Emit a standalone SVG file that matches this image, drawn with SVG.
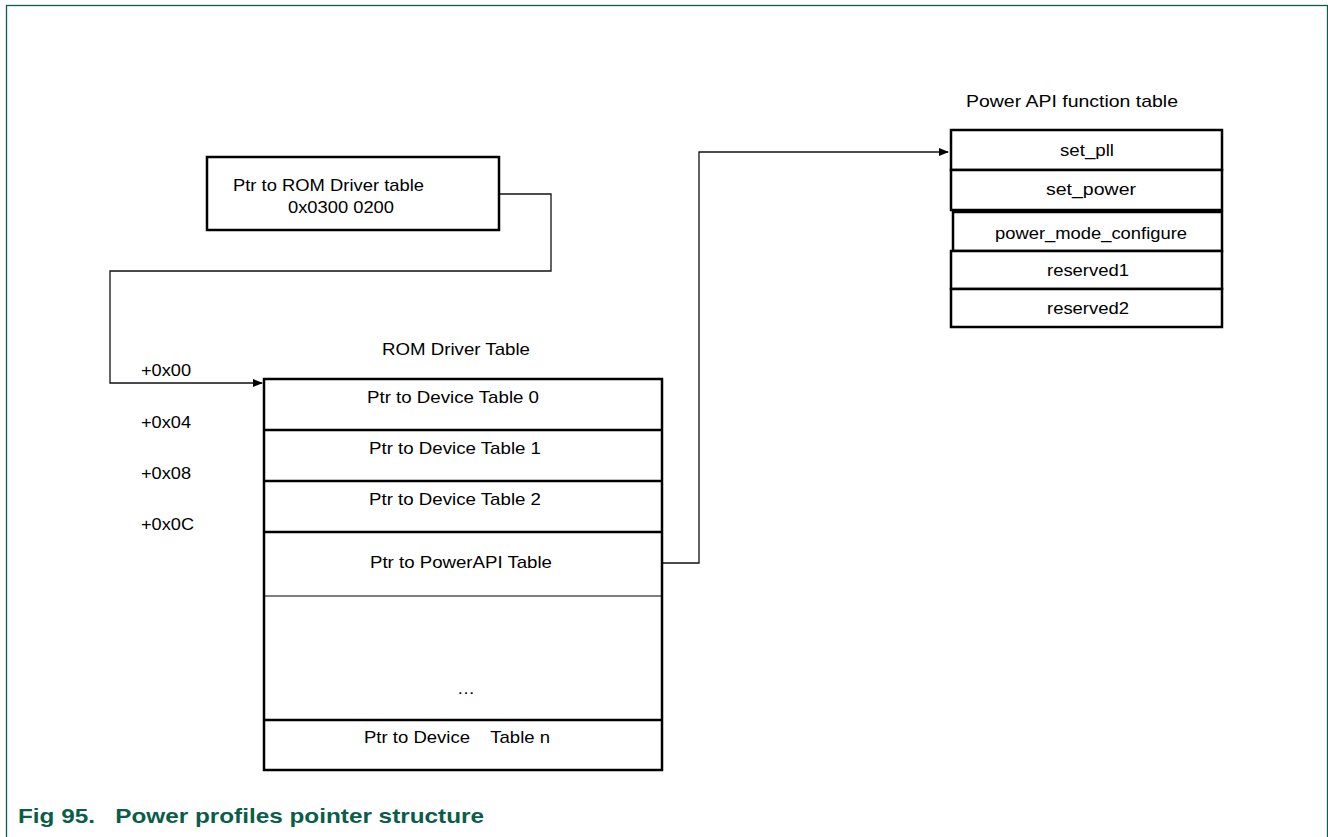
<svg xmlns="http://www.w3.org/2000/svg" width="1328" height="837" viewBox="0 0 1328 837">
<defs>
<marker id="arr" markerWidth="10" markerHeight="8" refX="9" refY="4" orient="auto" markerUnits="userSpaceOnUse">
<path d="M0,0 L10,4 L0,8 Z" fill="#000"/>
</marker>
<style>
.t{font-family:"Liberation Sans",Arial,sans-serif;font-size:17px;fill:#000}
.c{text-anchor:middle}
.box{fill:#fff;stroke:#000;stroke-width:2.5}
.thick{stroke:#000;stroke-width:2.5}
.thin{stroke:#000;stroke-width:1.2;fill:none}
.conn{stroke:#111;stroke-width:1.3;fill:none}
.cap{font-family:"Liberation Sans",Arial,sans-serif;font-size:21px;font-weight:bold;fill:#0b5d4b}
</style>
</defs>
<rect width="1328" height="837" fill="#fff"/>
<rect x="6.5" y="5.5" width="1321" height="845" fill="none" stroke="#0b5d4b" stroke-width="1.3"/>

<g id="connectors">
<path class="conn" d="M499,194 H551 V271 H110 V383 H262" marker-end="url(#arr)"/>
<path class="conn" d="M662,563 H699 V152 H948" marker-end="url(#arr)"/>
</g>

<g id="rom-ptr">
<rect class="box" x="207" y="157" width="292" height="73"/>
<text class="t" x="233" y="191" textLength="191" lengthAdjust="spacingAndGlyphs">Ptr to ROM Driver table</text>
<text class="t" x="288" y="213" textLength="106" lengthAdjust="spacingAndGlyphs">0x0300 0200</text>
</g>

<g id="offsets">
<text class="t" x="141" y="376" textLength="50" lengthAdjust="spacingAndGlyphs">+0x00</text>
<text class="t" x="141" y="428" textLength="50" lengthAdjust="spacingAndGlyphs">+0x04</text>
<text class="t" x="141" y="479" textLength="50" lengthAdjust="spacingAndGlyphs">+0x08</text>
<text class="t" x="141" y="530" textLength="53" lengthAdjust="spacingAndGlyphs">+0x0C</text>
</g>

<g id="rom-driver-table">
<text class="t c" x="456" y="355" textLength="148" lengthAdjust="spacingAndGlyphs">ROM Driver Table</text>
<rect class="box" x="264" y="379" width="398" height="391"/>
<line class="thick" x1="264" y1="430" x2="662" y2="430"/>
<line class="thick" x1="264" y1="481" x2="662" y2="481"/>
<line class="thick" x1="264" y1="532" x2="662" y2="532"/>
<line class="thin" x1="264" y1="596" x2="662" y2="596"/>
<line class="thick" x1="264" y1="720" x2="662" y2="720"/>
<text class="t c" x="453" y="403" textLength="172" lengthAdjust="spacingAndGlyphs">Ptr to Device Table 0</text>
<text class="t c" x="455" y="454" textLength="172" lengthAdjust="spacingAndGlyphs">Ptr to Device Table 1</text>
<text class="t c" x="455" y="505" textLength="172" lengthAdjust="spacingAndGlyphs">Ptr to Device Table 2</text>
<text class="t c" x="461" y="568" textLength="182" lengthAdjust="spacingAndGlyphs">Ptr to PowerAPI Table</text>
<text class="t c" x="466" y="694" textLength="18" lengthAdjust="spacingAndGlyphs">…</text>
<text class="t c" x="457" y="743" xml:space="preserve" textLength="186" lengthAdjust="spacingAndGlyphs">Ptr to Device    Table n</text>
</g>

<g id="power-api-table">
<text class="t c" x="1072" y="107" textLength="212" lengthAdjust="spacingAndGlyphs">Power API function table</text>
<rect class="box" x="951" y="130" width="271" height="40"/>
<rect class="box" x="951" y="170" width="271" height="40"/>
<rect class="box" x="953" y="212" width="269" height="39"/>
<rect class="box" x="951" y="251" width="271" height="38"/>
<rect class="box" x="951" y="289" width="271" height="38"/>
<text class="t c" x="1087" y="156" textLength="54" lengthAdjust="spacingAndGlyphs">set_pll</text>
<text class="t c" x="1091" y="195" textLength="90" lengthAdjust="spacingAndGlyphs">set_power</text>
<text class="t c" x="1091" y="239" textLength="192" lengthAdjust="spacingAndGlyphs">power_mode_configure</text>
<text class="t c" x="1088" y="276" textLength="82" lengthAdjust="spacingAndGlyphs">reserved1</text>
<text class="t c" x="1088" y="314" textLength="82" lengthAdjust="spacingAndGlyphs">reserved2</text>
</g>

<text class="cap" x="18" y="823" xml:space="preserve" textLength="466" lengthAdjust="spacingAndGlyphs">Fig 95.   Power profiles pointer structure</text>
</svg>
